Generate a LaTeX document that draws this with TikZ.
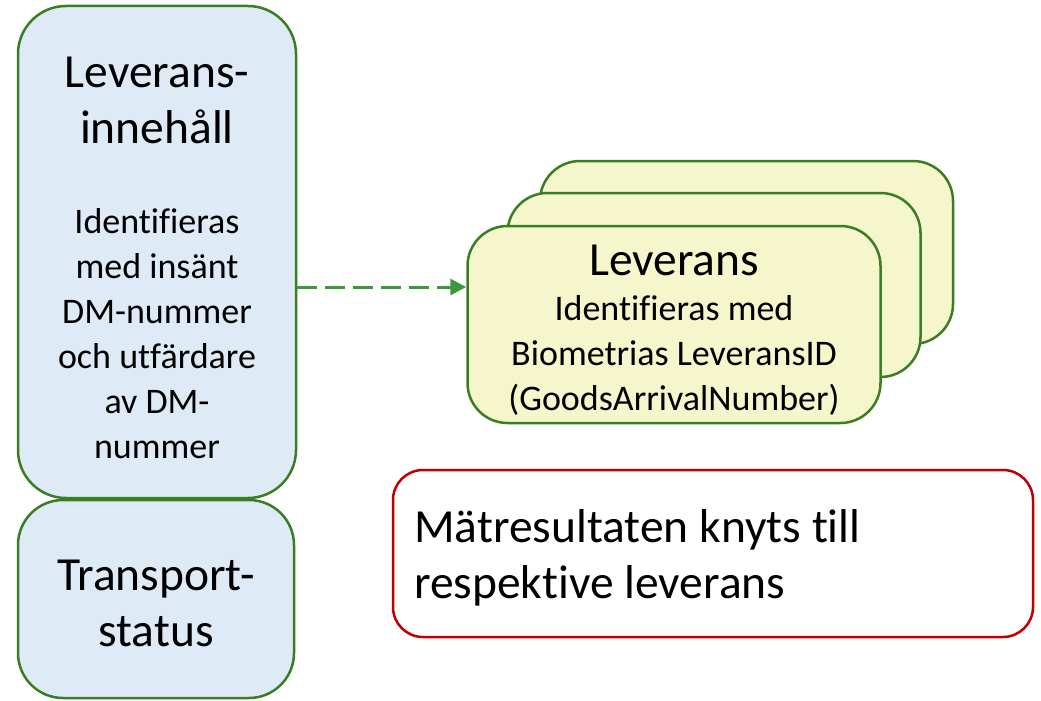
\documentclass[tikz,border=0pt]{standalone}
\usepackage{fontspec}
\setmainfont[Ligatures=NoCommon]{Carlito}
\usetikzlibrary{arrows.meta}
\definecolor{boxgreen}{RGB}{58,125,34}
\definecolor{arrowgreen}{RGB}{60,154,60}
\definecolor{lightblue}{RGB}{222,235,247}
\definecolor{lightyellow}{RGB}{245,246,204}
\definecolor{darkred}{RGB}{192,0,0}

\begin{document}
\begin{tikzpicture}[x=1pt,y=-1pt,
  bluebox/.style={draw=boxgreen,line width=2.5pt,fill=lightblue,rounded corners=48pt,inner sep=0pt},
  yellowbox/.style={draw=boxgreen,line width=2.5pt,fill=lightyellow,rounded corners=40pt,inner sep=0pt,minimum width=413pt},
  bigtext/.style={font=\fontsize{47.5}{56}\selectfont,align=center,inner sep=0pt},
  smalltext/.style={font=\fontsize{36}{45}\selectfont,align=center,inner sep=0pt}]
\useasboundingbox (0,0) rectangle (1041,701);

\node[bluebox,minimum width=278pt,minimum height=492pt] (inbox) at (157,252) {};
\node[bluebox,minimum width=276pt,minimum height=198pt,rounded corners=45pt] (statusbox) at (156,599) {};
\node[bigtext] (intitle) at (157,100) {Leverans-\\innehåll};
\node[smalltext] (inbody) at (157,334) {Identifieras\\med insänt\\DM-nummer\\och utfärdare\\av DM-\\nummer};
\node[bigtext] (statustext) at (156,603) {Transport-\\status};

\node[yellowbox,minimum height=183pt] (levback) at (746.5,252.5) {};
\node[yellowbox,minimum height=184pt] (levmid) at (714,285) {};
\node[yellowbox,minimum height=197pt] (levfront) at (674,324.5) {};
\node[bigtext] (levtitle) at (674,260) {Leverans};
\node[smalltext] (levbody) at (674,355) {Identifieras med\\Biometrias LeveransID\\(GoodsArrivalNumber)};

\node[draw=darkred,line width=2.5pt,rounded corners=30pt,minimum width=640pt,minimum height=167pt] (result) at (713,553.5) {};
\node[bigtext,align=left,anchor=west] (resulttext) at (414,558) {Mätresultaten knyts till\\respektive leverans};

\coordinate (arrowlevel) at (0,287);
\draw[arrowgreen,line width=3pt,dash pattern=on 20pt off 8pt,-{Triangle[length=16pt,width=16pt]}]
  (inbox.east |- arrowlevel) -- (levfront.west |- arrowlevel);
\end{tikzpicture}
\end{document}
